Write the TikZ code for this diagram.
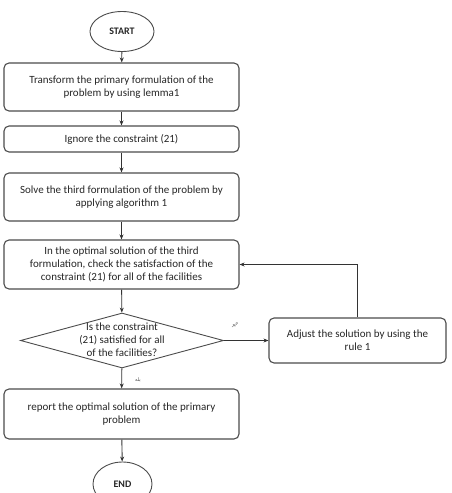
\documentclass[tikz,border=0pt]{standalone}
\usepackage{fontspec}
\setmainfont{Carlito}
\newfontfamily\arabicfont[Script=Arabic]{DejaVu Sans}
\TeXXeTstate=1
\usetikzlibrary{shapes.geometric,arrows.meta}
\begin{document}
\begin{tikzpicture}[x=1pt,y=-1pt,
  every node/.style={font=\fontsize{11}{13}\selectfont, text=black!85},
  boxstyle/.style={draw=black!70, line width=1.1pt, rounded corners=5pt, align=center, inner sep=0pt},
  termstyle/.style={draw=black!70, line width=0.9pt, ellipse, inner sep=0pt, font=\fontsize{10}{13}\selectfont\bfseries},
  decstyle/.style={draw=black!70, line width=0.9pt, diamond, aspect=3.7, inner sep=0pt, align=center},
  arr/.style={draw=black!80, line width=0.9pt, -{Stealth[length=5pt,width=4pt]}},
  lbl/.style={font=\arabicfont\fontsize{5}{6}\selectfont, text=black!70}]
\useasboundingbox (0,0) rectangle (451,493);
\node[termstyle, minimum width=64pt, minimum height=40pt] (start) at (122,31.5) {START};
\node[boxstyle, minimum width=235pt, minimum height=48pt] (b1) at (121.5,87) {Transform the primary formulation of the\\problem by using lemma1};
\node[boxstyle, minimum width=235pt, minimum height=26pt] (b2) at (121.5,139) {Ignore the constraint (21)};
\node[boxstyle, minimum width=235pt, minimum height=48pt] (b3) at (121.5,197) {Solve the third formulation of the problem by\\applying algorithm 1};
\node[boxstyle, minimum width=235pt, minimum height=49pt] (b4) at (121.5,264.5) {In the optimal solution of the third\\formulation, check the satisfaction of the\\constraint (21) for all of the facilities};
\node[decstyle, minimum width=203pt, minimum height=55pt] (d) at (122,340.5) {};
\node[align=center] (dt) at (122,340) {Is the constraint\\(21) satisfied for all\\of the facilities?};
\node[boxstyle, minimum width=177pt, minimum height=45pt] (adj) at (357.5,340.5) {Adjust the solution by using the\\rule 1};
\node[boxstyle, minimum width=235pt, minimum height=50pt] (b5) at (121.5,414) {report the optimal solution of the primary\\problem};
\node[termstyle, minimum width=59pt, minimum height=44pt] (end) at (122.5,484) {END};
\draw[arr] (start) -- (b1);
\draw[arr] (b1) -- (b2);
\draw[arr] (b2) -- (b3);
\draw[arr] (b3) -- (b4);
\draw[arr] (b4) -- (d);
\draw[arr] (d) -- (b5);
\draw[arr] (b5) -- (end);
\draw[arr, line width=0.6pt] (d.east) -- (adj.west);
\draw[arr] (adj.north) |- (b4.east);
\node[lbl, rotate=20] (no) at (235,325) {\beginR خیر\endR};
\node[lbl] (yes) at (138,380) {\beginR بله\endR};
\end{tikzpicture}
\end{document}
